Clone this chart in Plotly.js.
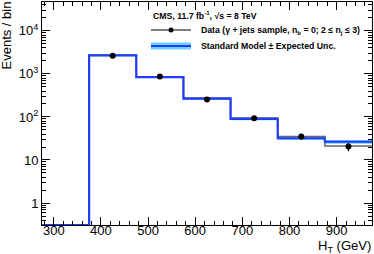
<!DOCTYPE html>
<html>
<head>
<meta charset="utf-8">
<script src="https://cdn.plot.ly/plotly-3.0.1.min.js"></script>
<style>html,body{margin:0;padding:0;background:#fff;}#plot{width:374px;height:254px;}</style>
</head>
<body>
<div id="plot"></div>
<script>
// Bin edges in H_T (GeV) and contents
const binEdges = [275, 375, 475, 575, 675, 775, 875, 975];
const smValues = [0, 2700, 840, 265, 90, 32, 26.5];          // Standard Model prediction (blue)
const smUncFrac = [0, 0.05, 0.05, 0.06, 0.07, 0.09, 0.10];   // relative expected uncertainty
const grayValues = [0, 2720, 860, 275, 95, 35, 21];          // gray outline histogram
const dataCenters = [425, 525, 625, 725, 825, 925];
const dataValues = [2650, 866, 253, 93, 35, 20.5];
const dataErrors = [51, 29, 16, 9.6, 5.9, 4.5];
const yTickVals = [1, 10, 100, 1000, 10000];
const yTickText = ["1", "10", "10<sup>2</sup>", "10<sup>3</sup>", "10<sup>4</sup>"];
const xTickVals = [300, 400, 500, 600, 700, 800, 900];

const yLogMin = -0.51, yLogMax = 4.67;
const floorVal = Math.pow(10, yLogMin);

function stepY(vals) {
  const ys = vals.map(v => v > 0 ? v : floorVal);
  ys.push(ys[ys.length - 1]);
  return ys;
}

const smUp = smValues.map((v, i) => v * (1 + smUncFrac[i]));
const smDn = smValues.map((v, i) => v * (1 - smUncFrac[i]));

// minor ticks for log y
const yMinor = [];
for (let d = -1; d <= 4; d++) for (let k = 2; k <= 9; k++) yMinor.push(k * Math.pow(10, d));

const traces = [
  {x: binEdges, y: stepY(smDn), mode: 'lines', line: {shape: 'hv', width: 0, color: 'rgba(0,0,0,0)'}, hoverinfo: 'skip', showlegend: false},
  {x: binEdges, y: stepY(smUp), mode: 'lines', line: {shape: 'hv', width: 0, color: 'rgba(0,0,0,0)'}, fill: 'tonexty', fillcolor: '#6fd0ff', hoverinfo: 'skip', showlegend: false},
  {x: binEdges, y: stepY(grayValues), mode: 'lines', line: {shape: 'hv', width: 1.5, color: '#666666'}, showlegend: false},
  {x: binEdges, y: stepY(smValues), mode: 'lines', line: {shape: 'hv', width: 2.2, color: '#1f3cff'}, showlegend: false},
  {x: dataCenters, y: dataValues, mode: 'markers', marker: {color: 'black', size: 6},
   error_y: {type: 'data', array: dataErrors, color: 'black', thickness: 1.2, width: 0}, showlegend: false}
];

function px2x(px) { return (px - 42) / 330; }
function py2y(py) { return (225 - py) / 223; }

const legFont = {family: 'Liberation Sans, Arial, sans-serif', size: 8.7, color: '#000'};

const layout = {
  width: 374, height: 254,
  margin: {l: 42, r: 2, t: 2, b: 29},
  paper_bgcolor: '#fff', plot_bgcolor: '#fff',
  showlegend: false,
  font: {family: 'Liberation Sans, Arial, sans-serif', size: 13, color: '#000'},
  xaxis: {
    range: [275, 975], tickmode: 'array', tickvals: xTickVals,
    ticks: 'inside', ticklen: 8, tickcolor: '#000', tickwidth: 1,
    showline: true, linecolor: '#000', linewidth: 1, mirror: 'allticks',
    showgrid: false, zeroline: false,
    tickfont: {size: 13}, ticklabelstandoff: -7,
    minor: {dtick: 20, tick0: 300, ticks: 'inside', ticklen: 4, tickcolor: '#000', showgrid: false}
  },
  yaxis: {
    type: 'log', range: [yLogMin, yLogMax], tickmode: 'array', tickvals: yTickVals, ticktext: yTickText,
    ticks: 'inside', ticklen: 8, tickcolor: '#000', tickwidth: 1,
    showline: true, linecolor: '#000', linewidth: 1, mirror: 'allticks',
    showgrid: false, zeroline: false,
    tickfont: {size: 13},
    minor: {tickmode: 'array', tickvals: yMinor, ticks: 'inside', ticklen: 4, tickcolor: '#000', showgrid: false}
  },
  annotations: [
    {xref: 'paper', yref: 'paper', x: 0, y: 1, xanchor: 'right', yanchor: 'top', xshift: -27, yshift: 2,
     textangle: -90, text: 'Events / bin', showarrow: false, font: {size: 13}},
    {xref: 'paper', yref: 'paper', x: 1, y: py2y(257), xanchor: 'right', yanchor: 'bottom', xshift: 1,
     text: 'H<sub>T</sub> (GeV)', showarrow: false, font: {size: 13}},
    {xref: 'paper', yref: 'paper', x: px2x(151), y: py2y(15), xanchor: 'left', yanchor: 'middle',
     text: '<b>CMS, 11.7 fb<sup>-1</sup>, √s = 8 TeV</b>', showarrow: false, font: legFont},
    {xref: 'paper', yref: 'paper', x: px2x(199), y: py2y(30), xanchor: 'left', yanchor: 'middle',
     text: '<b>Data (γ + jets sample, n<sub>b</sub> = 0; 2 ≤ n<sub>j</sub> ≤ 3)</b>', showarrow: false, font: legFont},
    {xref: 'paper', yref: 'paper', x: px2x(199), y: py2y(46), xanchor: 'left', yanchor: 'middle',
     text: '<b>Standard Model ± Expected Unc.</b>', showarrow: false, font: legFont}
  ],
  shapes: [
    {type: 'line', xref: 'paper', yref: 'paper', x0: px2x(151), x1: px2x(191), y0: py2y(30), y1: py2y(30), line: {color: '#000', width: 1}},
    {type: 'circle', xref: 'paper', yref: 'paper', x0: px2x(168.5), x1: px2x(173.5), y0: py2y(27.5), y1: py2y(32.5), fillcolor: '#000', line: {color: '#000', width: 0}},
    {type: 'rect', xref: 'paper', yref: 'paper', x0: px2x(151), x1: px2x(191), y0: py2y(42.5), y1: py2y(49.5), fillcolor: '#6fd0ff', line: {width: 0}},
    {type: 'line', xref: 'paper', yref: 'paper', x0: px2x(151), x1: px2x(191), y0: py2y(46), y1: py2y(46), line: {color: '#1f3cff', width: 2.2}}
  ]
};

Plotly.newPlot('plot', traces, layout, {displayModeBar: false, staticPlot: true});
</script>
</body>
</html>
